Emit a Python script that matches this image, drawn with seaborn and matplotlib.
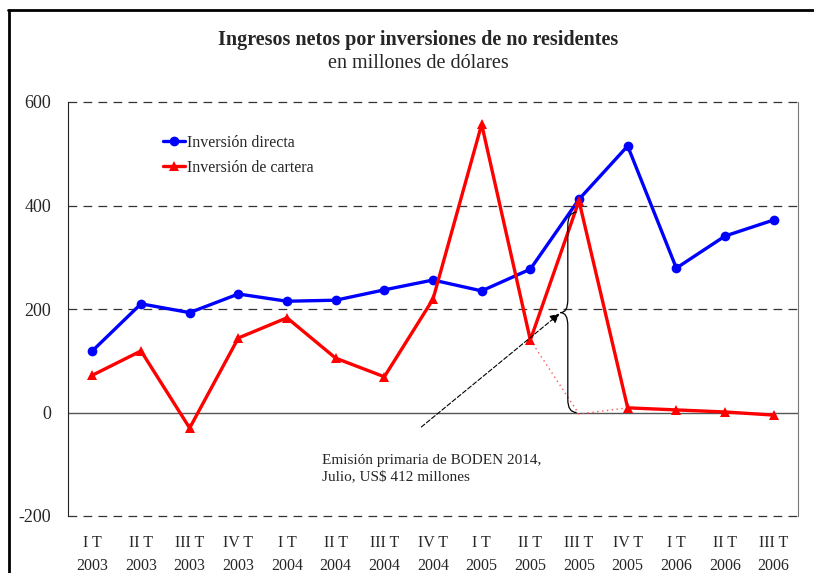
import numpy as np
import pandas as pd
import seaborn as sns
import matplotlib
matplotlib.use("Agg")
from matplotlib import pyplot as plt
from matplotlib.path import Path
from matplotlib.patches import PathPatch
from matplotlib.lines import Line2D

# datos
trimestres = ["I T", "II T", "III T", "IV T", "I T", "II T", "III T", "IV T",
              "I T", "II T", "III T", "IV T", "I T", "II T", "III T"]
anios = ["2003", "2003", "2003", "2003", "2004", "2004", "2004", "2004",
         "2005", "2005", "2005", "2005", "2006", "2006", "2006"]
inversion_directa = [119, 210, 193, 229, 215, 217, 237, 256,
                     235, 277, 412, 515, 279, 341, 372]
inversion_cartera = [72, 119, -30, 144, 183, 105, 69, 219,
                     557, 140, 409, 9, 5, 1, -5]
# cartera sin la emision de BODEN (tramo punteado II T 2005 - IV T 2005)
sin_boden_idx = [9, 10, 11]
sin_boden_val = [140, -3, 9]

sns.set_style("white")
plt.rcParams["font.family"] = ["Liberation Serif", "DejaVu Serif"]

df = pd.DataFrame({
    "x": list(range(len(trimestres))) * 2,
    "valor": inversion_directa + inversion_cartera,
    "serie": ["Inversión directa"] * len(trimestres) + ["Inversión de cartera"] * len(trimestres),
})

fig = plt.figure(figsize=(8.14, 5.73), dpi=100)
ax = fig.add_axes([68 / 814, 1 - 516 / 573, 730 / 814, 414 / 573])

# lineas de referencia
for yv in [-200, 200, 400, 600]:
    ax.axhline(yv, color="#333333", lw=0.9, ls=(0, (7, 5)), zorder=1, clip_on=False)
ax.axhline(0, color="#555555", lw=1.0, zorder=1)

# tramo sin BODEN
ax.plot(sin_boden_idx, sin_boden_val, color="#ff5555", lw=1.0, ls=(0, (1, 2.5)), zorder=2)

sns.lineplot(data=df, x="x", y="valor", hue="serie", style="serie",
             palette={"Inversión directa": "#0000ff", "Inversión de cartera": "#ff0000"},
             markers={"Inversión directa": "o", "Inversión de cartera": "^"},
             dashes=False, lw=2.4, markersize=7, markeredgewidth=0, ax=ax, zorder=3)

ax.set_xlim(-0.5, 14.5)
ax.set_ylim(-200, 600)
ax.set_yticks([-200, 0, 200, 400, 600])
ax.set_yticklabels(["-200", "0", "200", "400", "600"], fontsize=13)
ax.set_xticks(range(len(trimestres)))
ax.set_xticklabels([f"{t}\n{a}" for t, a in zip(trimestres, anios)], fontsize=11.5,
                   linespacing=1.55)
ax.tick_params(axis="x", length=0, pad=14)
ax.tick_params(axis="y", length=4, width=0.8, direction="out", pad=8)
ax.set_xlabel("")
ax.set_ylabel("")
for s in ["top", "bottom"]:
    ax.spines[s].set_visible(False)
ax.spines["left"].set_color("#222222")
ax.spines["right"].set_color("#777777")

leg = ax.legend(loc="upper left", bbox_to_anchor=(0.11, 0.955), frameon=False,
                fontsize=11.5, handlelength=1.4, handletextpad=0.15, labelspacing=0.55)

# llave de la emision
xl, xe, xt = 9.77, 9.95, 9.62
yt, ym, yb = 387, 193, 0
verts = [(xe, yt), (xl, yt), (xl, yt - 25), (xl, ym + 25), (xl, ym), (xt, ym),
         (xl, ym), (xl, ym - 25), (xl, yb + 25), (xl, yb), (xe, yb)]
codes = [Path.MOVETO, Path.CURVE3, Path.CURVE3, Path.LINETO, Path.CURVE3, Path.CURVE3,
         Path.CURVE3, Path.CURVE3, Path.LINETO, Path.CURVE3, Path.CURVE3]
ax.add_patch(PathPatch(Path(verts, codes), fill=False, lw=0.9, color="black", zorder=4))

ax.annotate("", xy=(9.6, 191), xytext=(6.76, -28),
            arrowprops=dict(arrowstyle="-|>", color="black", lw=0.8, ls=(0, (4, 2)),
                            mutation_scale=14, shrinkA=0, shrinkB=0), zorder=4)
ax.text(4.71, -109, "Emisión primaria de BODEN 2014,\nJulio, US$ 412 millones",
        fontsize=11, ha="left", va="center", linespacing=1.3)

fig.text(418 / 814, 1 - 40 / 573, "Ingresos netos por inversiones de no residentes",
         ha="center", va="center", fontsize=14.5, fontweight="bold")
fig.text(418 / 814, 1 - 64 / 573, "en millones de dólares", ha="center", va="center", fontsize=14.5)

# marco exterior
fig.add_artist(Line2D([8 / 814, 1.0], [1 - 10 / 573, 1 - 10 / 573], color="black", lw=2))
fig.add_artist(Line2D([9 / 814, 9 / 814], [0, 1 - 10 / 573], color="black", lw=2))

fig.savefig("out.png", dpi=100)
